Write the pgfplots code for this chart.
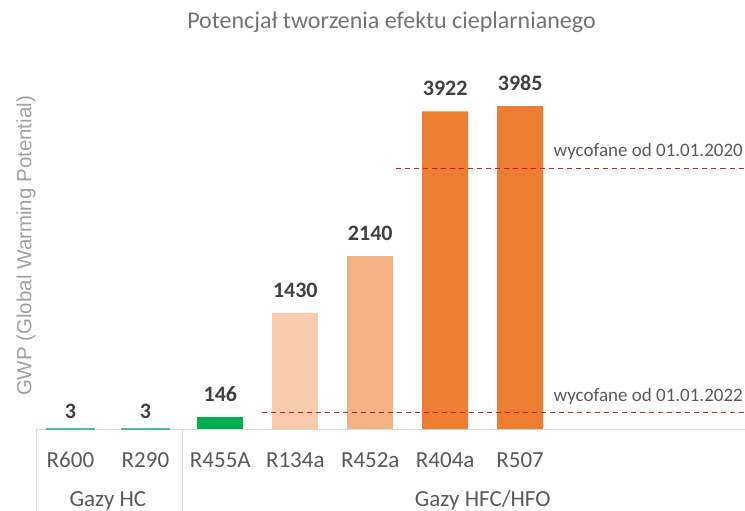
\documentclass[border=0pt]{standalone}
\usepackage{fontspec}
\setmainfont{Carlito}
\newfontfamily\arialfont{Liberation Sans}
\usepackage{pgfplots}
\pgfplotsset{compat=1.18}
\definecolor{mint}{RGB}{84,185,143}
\definecolor{gr}{RGB}{0,176,80}
\definecolor{peach1}{RGB}{248,203,173}
\definecolor{peach2}{RGB}{244,177,131}
\definecolor{orng}{RGB}{237,125,49}
\definecolor{dred}{RGB}{200,30,40}
\definecolor{txt}{RGB}{89,89,89}
\definecolor{val}{RGB}{64,64,64}
\definecolor{lgray}{RGB}{217,217,217}
\begin{document}
\begin{tikzpicture}
\path[use as bounding box] (0,0) rectangle (745bp,511bp);
\begin{axis}[
  at={(36bp,82bp)}, anchor=south west,
  scale only axis, width=709bp, height=356.4bp,
  xmin=-0.46, xmax=9, ymin=0, ymax=4400,
  ybar, bar width=46bp,
  clip=false,
  axis x line*=bottom, axis y line=none,
  x axis line style={-, draw=lgray, line width=1bp},
  xtick={0,1,2,3,4,5,6},
  xticklabels={R600,R290,R455A,R134a,R452a,R404a,R507},
  major tick length=0pt,
  xticklabel style={font=\fontsize{23bp}{26bp}\selectfont, text=txt, anchor=base, yshift=-38bp},
  ytick=\empty,
  /pgf/number format/assume math mode=true,
  /pgf/number format/1000 sep={},
  nodes near coords,
  every node near coord/.append style={font=\bfseries\fontsize{22bp}{25bp}\selectfont, text=val, inner sep=0pt, yshift=15bp},
]
\addplot[bar shift=0pt, fill=mint, draw=mint, line width=2.5bp,
  every node near coord/.append style={yshift=-6bp}] coordinates {(0,3) (1,3)};
\addplot[bar shift=0pt, fill=gr, draw=none] coordinates {(2,146)};
\addplot[bar shift=0pt, fill=peach1, draw=none] coordinates {(3,1430)};
\addplot[bar shift=0pt, fill=peach2, draw=none] coordinates {(4,2140)};
\addplot[bar shift=0pt, fill=orng, draw=none] coordinates {(5,3922) (6,3985)};
\addplot[sharp plot, nodes near coords={}, dred, line width=1.1bp, dash pattern=on 5bp off 4bp, no marks] coordinates {(4.35,3220) (9,3220)};
\addplot[sharp plot, nodes near coords={}, dred, line width=1.1bp, dash pattern=on 5bp off 4bp, no marks] coordinates {(2.55,200) (9,200)};
\node[anchor=south east, inner sep=0pt, yshift=8bp, xshift=-2bp, text=txt, font=\fontsize{19bp}{22bp}\selectfont] at (axis cs:9,3220) {wycofane od 01.01.2020};
\node[anchor=south east, inner sep=0pt, yshift=8bp, xshift=-2bp, text=txt, font=\fontsize{19bp}{22bp}\selectfont] at (axis cs:9,200) {wycofane od 01.01.2022};
\draw[lgray, line width=1bp] (axis cs:-0.46,0) -- ([yshift=-82bp]axis cs:-0.46,0);
\draw[lgray, line width=1bp] (axis cs:1.5,0) -- ([yshift=-82bp]axis cs:1.5,0);
\node[anchor=base, inner sep=0pt, yshift=-77bp, text=txt, font=\fontsize{23bp}{26bp}\selectfont] at (axis cs:0.5,0) {Gazy HC};
\node[anchor=base, inner sep=0pt, yshift=-77bp, text=txt, font=\fontsize{23bp}{26bp}\selectfont] at (axis cs:5.5,0) {Gazy HFC/HFO};
\end{axis}
\node[anchor=base, inner sep=0pt, text={rgb,255:red,115;green,115;blue,115}, font=\fontsize{24bp}{28bp}\selectfont] at (391.5bp,482bp) {Potencjał tworzenia efektu cieplarnianego};
\node[rotate=90, anchor=center, inner sep=0pt, text={rgb,255:red,160;green,160;blue,160}, font=\arialfont\fontsize{20.5bp}{24bp}\selectfont] at (26bp,265bp) {GWP (Global Warming Potential)};
\end{tikzpicture}
\end{document}
